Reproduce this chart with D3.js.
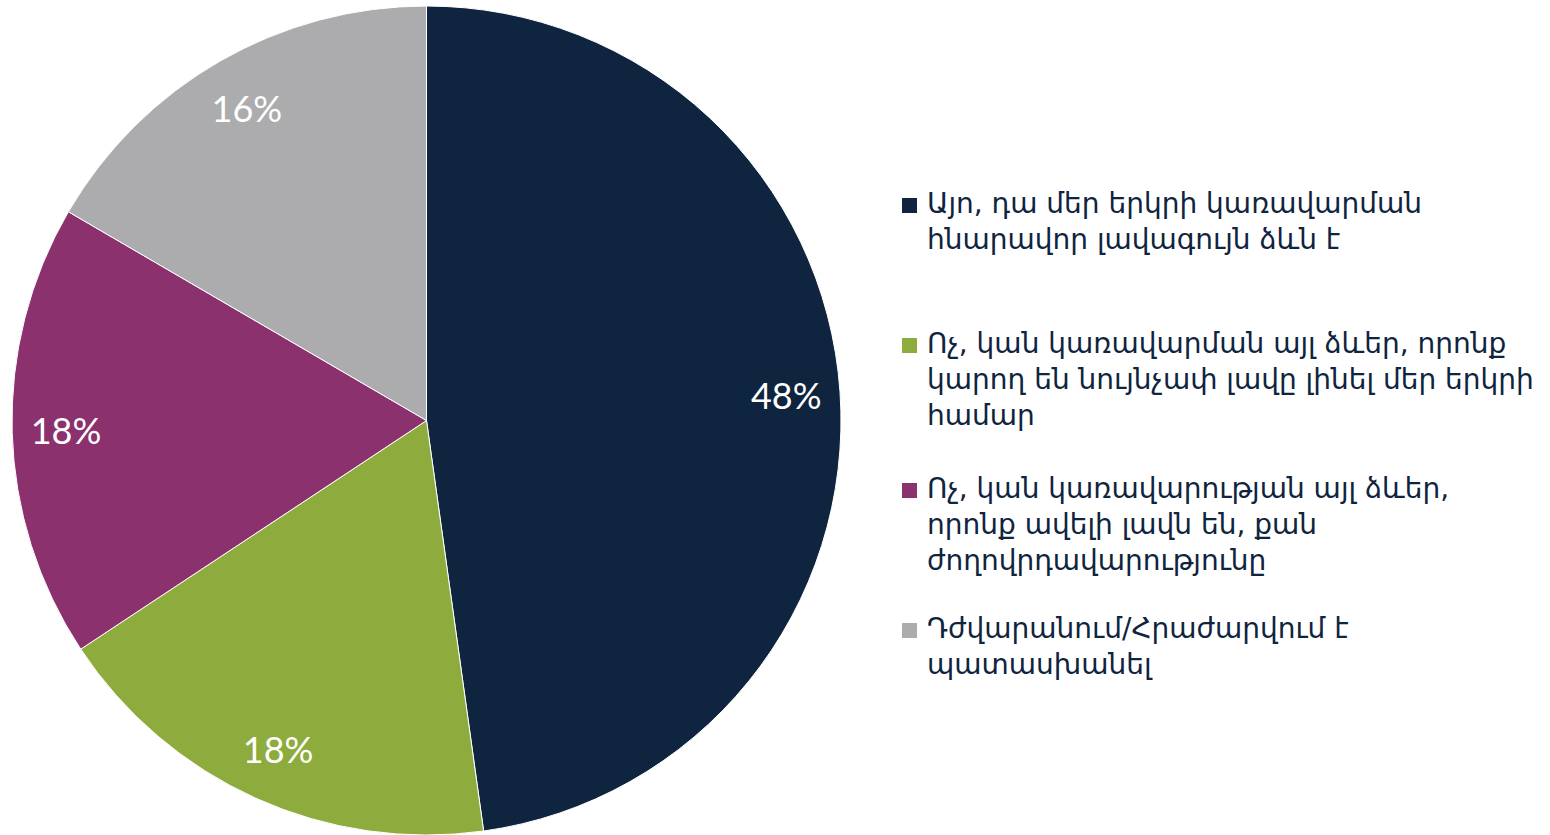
<!DOCTYPE html>
<html>
<head>
<meta charset="utf-8">
<script src="https://cdn.jsdelivr.net/npm/d3@7"></script>
<style>
  body { margin: 0; background: #fff; }
  svg { display: block; }
</style>
</head>
<body>
<div id="chart_container"></div>
<script>
// slice values (sum 100), and the labels printed on them
var categories = [
    ["Այո, դա մեր երկրի կառավարման", "հնարավոր լավագույն ձևն է"],
    ["Ոչ, կան կառավարման այլ ձևեր, որոնք", "կարող են նույնչափ լավը լինել մեր երկրի", "համար"],
    ["Ոչ, կան կառավարության այլ ձևեր,", "որոնք ավելի լավն են, քան", "ժողովրդավարությունը"],
    ["Դժվարանում/Հրաժարվում է", "պատասխանել"]
];
var values = [47.8, 17.9, 17.7, 16.6];
var labels = ["48%", "18%", "18%", "16%"];
var colors = ["#0f243e", "#8eac3d", "#8b326e", "#acacae"];

var width = 1550, height = 835;
var cx = 426.5, cy = 420.5, radius = 414.5;

var svg = d3.select("#chart_container")
    .append("svg")
    .attr("width", width)
    .attr("height", height);

var pie = d3.pie()
    .sort(null)
    .value(function(d) { return d; });

var arc = d3.arc()
    .innerRadius(0)
    .outerRadius(radius);

var labelArc = d3.arc()
    .innerRadius(radius * 0.87)
    .outerRadius(radius * 0.87);

var plot = svg.append("g")
    .attr("transform", "translate(" + cx + "," + cy + ")");

var slices = pie(values);

plot.selectAll("path")
    .data(slices)
    .enter()
    .append("path")
    .attr("d", arc)
    .attr("fill", function(d, i) { return colors[i]; })
    .attr("stroke", "#fff")
    .attr("stroke-width", 1);

plot.selectAll("text.pct")
    .data(slices)
    .enter()
    .append("text")
    .attr("class", "pct")
    .attr("transform", function(d) { return "translate(" + labelArc.centroid(d) + ")"; })
    .attr("text-anchor", "middle")
    .attr("dy", "0.38em")
    .style("font-family", "Lato, 'Open Sans', sans-serif")
    .style("font-size", "36px")
    .style("fill", "#fff")
    .text(function(d, i) { return labels[i]; });

// legend
var legendTops = [213, 353, 498, 638];
var lineStep = 36;

var legend = svg.append("g")
    .attr("id", "legend");

var items = legend.selectAll("g")
    .data(categories)
    .enter()
    .append("g")
    .attr("transform", function(d, i) { return "translate(902," + legendTops[i] + ")"; });

items.append("rect")
    .attr("x", 0)
    .attr("y", -15)
    .attr("width", 15)
    .attr("height", 15)
    .attr("fill", function(d, i) { return colors[i]; });

items.append("text")
    .style("font-family", "'DejaVu Sans', sans-serif")
    .style("font-size", "28px")
    .style("fill", "#0f243e")
    .selectAll("tspan")
    .data(function(d) { return d; })
    .enter()
    .append("tspan")
    .attr("x", 25)
    .attr("y", function(d, j) { return j * lineStep; })
    .text(function(d) { return d; });
</script>
</body>
</html>
